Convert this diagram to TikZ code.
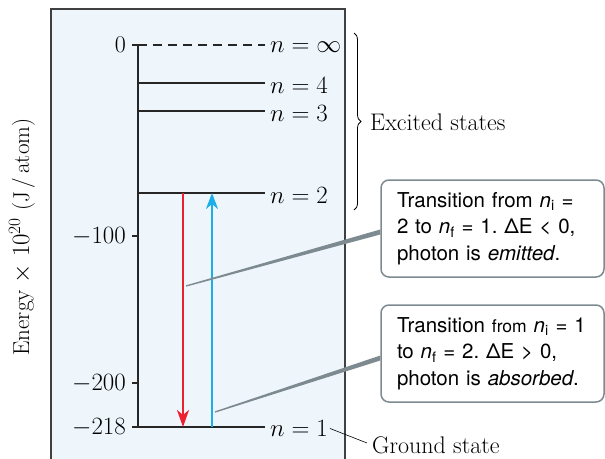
\documentclass[tikz,border=0pt]{standalone}
\usepackage{fontspec}
\usepackage{tikz}
\newfontfamily\boxfont{TeX Gyre Heros}
\usetikzlibrary{arrows.meta,positioning,decorations.pathreplacing}

\definecolor{panelblue}{HTML}{EEF6FC}
\definecolor{emitred}{HTML}{EE2030}
\definecolor{absorbblue}{HTML}{1AAEEA}
\definecolor{callgray}{HTML}{7D8B91}

\newcommand{\lblsize}{\fontsize{24}{28}\selectfont}
\frenchspacing

\begin{document}
\begin{tikzpicture}[
        x=1pt, y=-1pt,
        level/.style={line width=2pt, draw=black!85},
        axisline/.style={line width=1.5pt, draw=black!85},
        lbl/.style={anchor=west, inner sep=0pt, font=\lblsize},
        tick/.style={anchor=east, inner sep=0pt, font=\lblsize},
        callout/.style={rectangle, draw=callgray, line width=1.5pt, rounded corners=8pt, fill=white,
            minimum width=223pt, minimum height=97pt, inner xsep=16pt, text width=191pt, align=left,
            font=\boxfont\fontsize{20.5}{26.5}\selectfont},
        emitarrow/.style={draw=emitred, line width=2.4pt, -{Stealth[length=17pt, width=12pt, inset=5pt]}},
        absorbarrow/.style={draw=absorbblue, line width=2.4pt, -{Stealth[length=16pt, width=12pt, inset=5pt]}},
        wedge/.style={fill=callgray, draw=none}
    ]
        \useasboundingbox (0,0) rectangle (605,458);

        % Panel
        \draw[draw=black!75, line width=1.2pt, fill=panelblue] (51,9) rectangle (345,470);

        % Energy axis and ticks
        \draw[axisline] (132,45) -- (138,45) -- (138,427);
        \draw[axisline] (132,236) -- (138,236);
        \draw[axisline] (132,383) -- (138,383);
        \node[tick] (t0) at (126,45) {0};
        \node[tick] (t100) at (126,237) {$-100$};
        \node[tick] (t200) at (126,384) {$-200$};
        \node[tick] (t218) at (126,428) {$-218$};

        % Axis label
        \node[rotate=90, font=\fontsize{23}{27}\selectfont] (ylabel) at (22,237) {Energy $\times$ $10^{20}$ (J\,/\,atom)};

        % Levels
        \draw[level, dashed, dash pattern=on 9pt off 6pt] (138,45) -- (265,45) coordinate (lvinf);
        \node[lbl, yshift=-2pt] (ninf) at ([xshift=5pt]lvinf) {$n = \infty$};
        \foreach \n/\y in {4/83, 3/111, 2/193} {
            \draw[level] (138,\y) -- (265,\y) coordinate (lv\n);
            \node[lbl, yshift=-2pt] (n\n) at ([xshift=5pt]lv\n) {$n = \n$};
        }
        \draw[level] (132,427) -- (265,427) coordinate (lv1);
        \node[lbl, yshift=-1.5pt] (n1) at ([xshift=5pt]lv1) {$n = 1$};

        % Transitions
        \coordinate (redtop) at (183,193);
        \coordinate (redbot) at (183,427);
        \coordinate (bluetop) at (212,193);
        \coordinate (bluebot) at (212,427);
        \draw[emitarrow] (redtop) -- (redbot);
        \draw[absorbarrow] (bluebot) -- (bluetop);

        % Excited states brace
        \draw[line width=0.8pt, decorate, decoration={brace, amplitude=7pt}] (354,33) -- (354,210);
        \coordinate (bracetip) at (362,122);
        \node[lbl, right=8pt of bracetip] (excited) {Excited states};

        % Ground state
        \node[lbl] (ground) at (372,445) {Ground state};
        \draw[line width=0.6pt] ([xshift=2pt]n1.east) -- ([xshift=-5pt,yshift=2pt]ground.west);

        % Callout boxes
        \node[callout] (emitbox) at (492.5,228.5) {
            \mbox{Transition from \textit{n}\textsubscript{i} =}\\
            \mbox{2 to \textit{n}\textsubscript{f} = 1. ΔE < 0,}\\
            photon is \textit{emitted}.
        };
        \node[callout] (absorbbox) at (492.5,353.5) {
            \mbox{Transition {\fontsize{17.5}{26.5}\selectfont from} \textit{n}\textsubscript{i} = 1}\\
            \mbox{to \textit{n}\textsubscript{f} = 2. ΔE > 0,}\\
            photon is \textit{absorbed}.
        };

        % Callout pointers
        \coordinate (emitfoot) at (186,286);
        \coordinate (absorbfoot) at (215,412);
        \fill[wedge] ([yshift=0.7pt]emitfoot) -- ([yshift=-1pt]emitbox.west) -- ([yshift=-6pt]emitbox.west) -- ([yshift=-0.7pt]emitfoot) -- cycle;
        \fill[wedge] ([yshift=0.7pt]absorbfoot) -- ([yshift=-2pt]absorbbox.west) -- ([yshift=-7pt]absorbbox.west) -- ([yshift=-0.7pt]absorbfoot) -- cycle;
    \end{tikzpicture}
\end{document}
